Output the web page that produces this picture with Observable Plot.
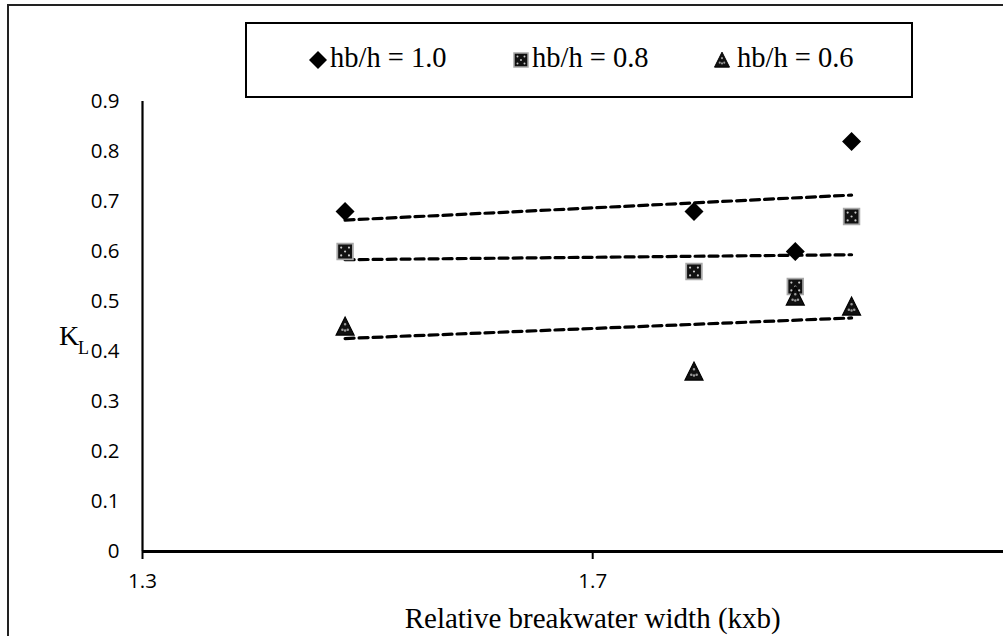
<!DOCTYPE html>
<html>
<head>
<meta charset="utf-8">
<script src="https://cdn.jsdelivr.net/npm/d3@7"></script>
<script src="https://cdn.jsdelivr.net/npm/@observablehq/plot@0.6"></script>
<style>
  html, body { margin: 0; padding: 0; background: #fff; overflow: hidden; width: 1003px; height: 636px; }
  #wrap { position: relative; width: 1003px; height: 636px; overflow: hidden; }
  #frame { position: absolute; left: 7px; top: 4px; width: 1100px; height: 700px; border: 2px solid #222; box-sizing: border-box; }
  #chart { position: absolute; left: 0; top: 0; }
  .serif { font-family: "Liberation Serif", "Times New Roman", serif; color: #000; position: absolute; white-space: nowrap; }
  #legend { position: absolute; left: 245px; top: 22px; width: 668px; height: 76px; border: 2px solid #000; box-sizing: border-box; background: #fff; }
  .ltext { font-size: 28.5px; line-height: 28px; top: 44px; }
  .licon { position: absolute; }
</style>
</head>
<body>
<div id="wrap">
  <div id="frame"></div>
  <div id="chart"></div>
  <div id="legend"></div>
</div>
<script>
// ---- data ----
const xValues = [1.48, 1.79, 1.88, 1.93];
const kl10 = [0.68, 0.68, 0.60, 0.82];
const kl08 = [0.60, 0.56, 0.53, 0.67];
const kl06 = [0.45, 0.36, 0.51, 0.49];
const seriesNames = ["hb/h = 1.0", "hb/h = 0.8", "hb/h = 0.6"];
const yTicks = [0, 0.1, 0.2, 0.3, 0.4, 0.5, 0.6, 0.7, 0.8, 0.9];
const yTickLabels = ["0", "0.1", "0.2", "0.3", "0.4", "0.5", "0.6", "0.7", "0.8", "0.9"];
const xTicks = [1.3, 1.7];
const xTickLabels = ["1.3", "1.7"];
const xTitle = "Relative breakwater width (kxb)";
const yTitle = "K";
const yTitleSub = "L";
const xDomain = [1.3, 2.065];
const yDomain = [0, 0.9];

const seriesValues = [kl10, kl08, kl06];
const rows = [];
seriesValues.forEach((vals, s) => {
  vals.forEach((v, i) => rows.push({x: xValues[i], y: v, series: seriesNames[s]}));
});
const bySeries = name => rows.filter(d => d.series === name);

// ---- custom symbols ----
const rOf = size => Math.sqrt(size / Math.PI);
const diamond = {draw(c, size) { const r = rOf(size); c.moveTo(0, -r); c.lineTo(r, 0); c.lineTo(0, r); c.lineTo(-r, 0); c.closePath(); }};
const square = {draw(c, size) { const r = rOf(size); c.moveTo(-r, -r); c.lineTo(r, -r); c.lineTo(r, r); c.lineTo(-r, r); c.closePath(); }};
const triangle = {draw(c, size) { const r = rOf(size); c.moveTo(0, -1.05 * r); c.lineTo(r, 0.95 * r); c.lineTo(-r, 0.95 * r); c.closePath(); }};
function dots(points, rr) {
  return {draw(c, size) {
    const r = rOf(size);
    for (const [px, py] of points) {
      const x = px * r, y = py * r, q = rr * r;
      c.moveTo(x + q, y); c.arc(x, y, q, 0, 2 * Math.PI);
    }
  }};
}
const squareDots = dots([[-0.5, -0.5], [0.5, -0.5], [0, 0], [-0.5, 0.5], [0.5, 0.5]], 0.14);
const triDots = dots([[0, -0.25], [-0.3, 0.35], [0.3, 0.35], [0, 0.45]], 0.14);

const chart = Plot.plot({
  width: 1003,
  height: 636,
  marginLeft: 142,
  marginRight: 0,
  marginTop: 101,
  marginBottom: 85,
  style: {fontFamily: "'Open Sans', sans-serif", fontSize: "20.5px", color: "#000", background: "transparent", overflow: "hidden"},
  x: {domain: xDomain},
  y: {domain: yDomain},
  marks: [
    Plot.ruleX([xDomain[0]], {y1: yDomain[0], y2: yDomain[1], stroke: "#000", strokeWidth: 2.2}),
    Plot.ruleY([0], {stroke: "#000", strokeWidth: 3}),
    Plot.axisX({ticks: xTicks, tickFormat: d => xTickLabels[xTicks.indexOf(d)], tickSize: 8, tickPadding: 14, fontSize: 20.5, strokeWidth: 2, label: null}),
    Plot.axisY({ticks: yTicks, tickFormat: d => yTickLabels[yTicks.indexOf(d)], tickSize: 0, tickPadding: 23, fontSize: 20.5, label: null}),
    Plot.text([{x: 1.7, y: 0, label: xTitle}], {x: "x", y: "y", text: "label", dy: 56, lineAnchor: "top", fontFamily: "'Liberation Serif', serif", fontSize: 29, fill: "#000"}),
    Plot.linearRegressionY(rows, {x: "x", y: "y", z: "series", stroke: "#000", strokeWidth: 3.2, strokeDasharray: "9,5", ci: 0}),
    Plot.dot(bySeries(seriesNames[0]), {x: "x", y: "y", symbol: diamond, r: 9.5, fill: "#000", stroke: "none"}),
    Plot.dot(bySeries(seriesNames[1]), {x: "x", y: "y", symbol: square, r: 7.8, fill: "#111", stroke: "#a8a8a8", strokeWidth: 1.8}),
    Plot.dot(bySeries(seriesNames[1]), {x: "x", y: "y", symbol: squareDots, r: 7.8, fill: "#c8c8c8", stroke: "none"}),
    Plot.dot(bySeries(seriesNames[2]), {x: "x", y: "y", symbol: triangle, r: 9, fill: "#111", stroke: "#000", strokeWidth: 1.2}),
    Plot.dot(bySeries(seriesNames[2]), {x: "x", y: "y", symbol: triDots, r: 9, fill: "#9a9a9a", stroke: "none"})
  ]
});
document.getElementById("chart").appendChild(chart);

// ---- legend ----
const wrap = document.getElementById("wrap");
const legendItems = [
  {name: seriesNames[0], icon: "diamond", cx: 318, tx: 330},
  {name: seriesNames[1], icon: "square", cx: 521, tx: 532},
  {name: seriesNames[2], icon: "triangle", cx: 722, tx: 737}
];
const ns = "http://www.w3.org/2000/svg";
legendItems.forEach(it => {
  const svg = document.createElementNS(ns, "svg");
  svg.setAttribute("width", 22); svg.setAttribute("height", 22);
  svg.setAttribute("class", "licon");
  svg.style.left = (it.cx - 11) + "px"; svg.style.top = (60 - 11) + "px";
  const g = d3.select(svg).append("g").attr("transform", "translate(11,11)");
  if (it.icon === "diamond") {
    g.append("path").attr("d", d3.symbol(diamond, Math.PI * 9 * 9)()).attr("fill", "#000");
  } else if (it.icon === "square") {
    g.append("path").attr("d", d3.symbol(square, Math.PI * 7 * 7)()).attr("fill", "#111").attr("stroke", "#a8a8a8").attr("stroke-width", 1.5);
    g.append("path").attr("d", d3.symbol(squareDots, Math.PI * 7 * 7)()).attr("fill", "#c8c8c8");
  } else {
    g.append("path").attr("d", d3.symbol(triangle, Math.PI * 7.5 * 7.5)()).attr("fill", "#111").attr("stroke", "#000");
    g.append("path").attr("d", d3.symbol(triDots, Math.PI * 7.5 * 7.5)()).attr("fill", "#9a9a9a");
  }
  wrap.appendChild(svg);
  const t = document.createElement("div");
  t.className = "serif ltext";
  t.style.left = it.tx + "px";
  t.textContent = it.name;
  wrap.appendChild(t);
});

// ---- y title K_L ----
const k = document.createElement("div");
k.className = "serif";
k.style.cssText += "left:59px; top:322px; font-size:28px; line-height:28px;";
k.textContent = yTitle;
wrap.appendChild(k);
const l = document.createElement("div");
l.className = "serif";
l.style.cssText += "left:78px; top:339px; font-size:18px; line-height:18px;";
l.textContent = yTitleSub;
wrap.appendChild(l);
</script>
</body>
</html>
